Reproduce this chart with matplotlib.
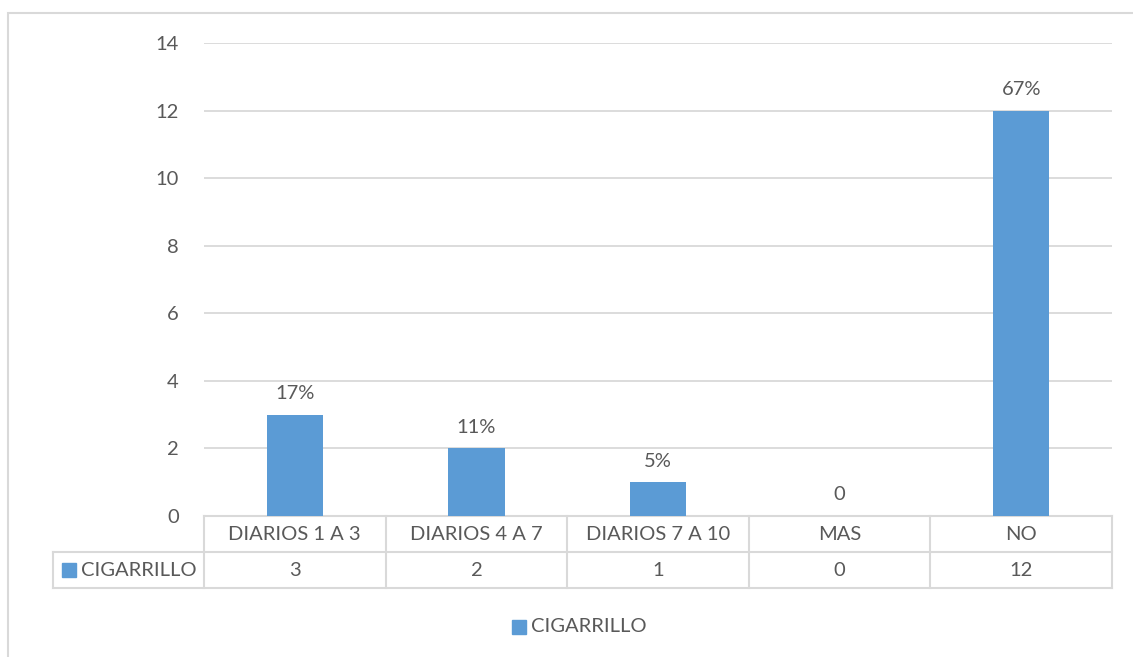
import matplotlib.pyplot as plt
import matplotlib.transforms as mtransforms
from matplotlib.patches import Rectangle

# data
categories = ['DIARIOS 1 A 3', 'DIARIOS 4 A 7', 'DIARIOS 7 A 10', 'MAS', 'NO']
values = [3, 2, 1, 0, 12]
labels = ['17%', '11%', '5%', '0', '67%']
series_name = 'CIGARRILLO'
yticks = [0, 2, 4, 6, 8, 10, 12, 14]

W, H = 1133, 657
bar_color = '#5b9bd5'
grid_color = '#d9d9d9'
text_color = '#595959'

plt.rcParams['font.family'] = ['Lato', 'DejaVu Sans']
fs = 14.5

fig = plt.figure(figsize=(W / 100, H / 100), dpi=100)

# outer chart border (only left and top visible)
fig.patches.append(Rectangle((8 / W, -0.1), 1.2, 1 - 13 / H + 0.1,
                             transform=fig.transFigure, fill=False,
                             edgecolor=grid_color, linewidth=1.5))

x0, x1 = 204, 1112
y_top, y_bot = 43, 516
ax = fig.add_axes([x0 / W, 1 - y_bot / H, (x1 - x0) / W, (y_bot - y_top) / H])

xs = list(range(len(categories)))
ax.bar(xs, values, width=0.31, color=bar_color, zorder=3)
ax.set_xlim(-0.5, len(categories) - 0.5)
ax.set_ylim(0, 14)
ax.set_yticks(yticks)
ax.set_xticks([])
ax.tick_params(axis='y', length=0, pad=18, labelsize=fs, labelcolor=text_color)
ax.grid(axis='y', color=grid_color, linewidth=1.3, zorder=0)
for s in ['top', 'right', 'left', 'bottom']:
    ax.spines[s].set_visible(False)

# data labels above bars
for x, v, lab in zip(xs, values, labels):
    ax.annotate(lab, (x, v), xytext=(0, 9), textcoords='offset points',
                ha='center', va='bottom', fontsize=fs, color=text_color)

# data table below the plot
trans = mtransforms.blended_transform_factory(ax.transData, ax.transAxes)
ph = y_bot - y_top
row = 36 / ph
left_edge = -0.5 - (x0 - 53) / ((x1 - x0) / len(categories))
lk = dict(color=grid_color, linewidth=1.5, clip_on=False, transform=trans)
ax.plot([-0.5, len(categories) - 0.5], [0, 0], **lk)
ax.plot([left_edge, len(categories) - 0.5], [-row, -row], **lk)
ax.plot([left_edge, len(categories) - 0.5], [-2 * row, -2 * row], **lk)
for b in range(len(categories) + 1):
    ax.plot([b - 0.5, b - 0.5], [0, -2 * row], **lk)
ax.plot([left_edge, left_edge], [-row, -2 * row], **lk)

for x, cat, v in zip(xs, categories, values):
    ax.text(x, -row / 2, cat, transform=trans, ha='center', va='center',
            fontsize=fs, color=text_color)
    ax.text(x, -1.5 * row, str(v), transform=trans, ha='center', va='center',
            fontsize=fs, color=text_color)

# legend key inside table
fig.patches.append(Rectangle((62 / W, 1 - 577 / H), 14 / W, 14 / H,
                             transform=fig.transFigure, color=bar_color))
fig.text(81 / W, 1 - 570 / H, series_name, ha='left', va='center',
         fontsize=fs, color=text_color)

# bottom legend
fig.patches.append(Rectangle((512 / W, 1 - 634 / H), 14 / W, 14 / H,
                             transform=fig.transFigure, color=bar_color))
fig.text(531 / W, 1 - 627 / H, series_name, ha='left', va='center',
         fontsize=fs, color=text_color)

fig.savefig('out.png', dpi=100)
